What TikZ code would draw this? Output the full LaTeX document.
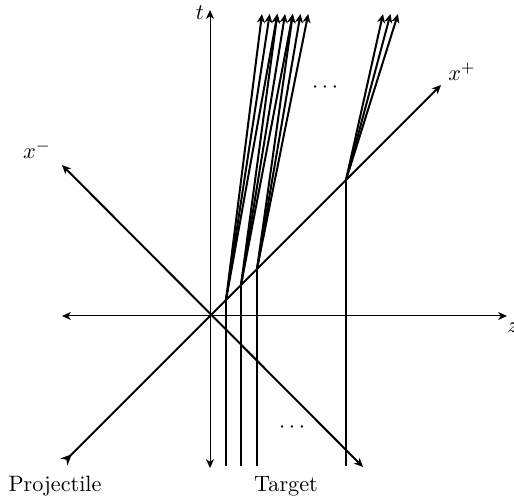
\documentclass[tikz,border=0pt]{standalone}
\usetikzlibrary{arrows.meta}
\begin{document}
\begin{tikzpicture}[x=0.45pt,y=-0.45pt,
  axis/.style={line width=0.45pt,{Stealth[length=4pt,width=3.6pt,inset=1.2pt]}-{Stealth[length=4pt,width=3.6pt,inset=1.2pt]}},
  light/.style={line width=0.9pt,{Stealth[length=4pt,width=3.6pt,inset=1.2pt]}-{Stealth[length=4pt,width=3.6pt,inset=1.2pt]}},
  worldline/.style={line width=0.9pt},
  jet/.style={line width=0.9pt,-{Stealth[length=4pt,width=3.6pt,inset=1.2pt]}},
  lbl/.style={inner sep=0pt}
]
\useasboundingbox (0,0) rectangle (514,496);
% axes
\coordinate (zl) at (62,316);
\coordinate (zr) at (507,316);
\coordinate (tb) at (210,468);
\coordinate (tt) at (210,10);
\draw[axis] (zl) -- (zr);
\draw[axis] (tb) -- (tt);
\node[lbl] (zlab) at (513,328) {$z$};
\node[lbl] (tlab) at (200,13) {$t$};
% light cone lines
\coordinate (pl) at (64,462);
\coordinate (pr) at (441,85);
\draw[line width=0.9pt,{Stealth[length=5pt,width=4.4pt,inset=1.5pt,reversed]}-{Stealth[length=4pt,width=3.6pt,inset=1.2pt]}] (pl) -- (pr);
\coordinate (ml) at (62,165);
\coordinate (mr) at (363,467);
\draw[light] (ml) -- (mr);
\node[lbl] (xp) at (462,72) {$x^+$};
\node[lbl] (xm) at (37,150) {$x^-$};
% target world lines
\foreach \i/\x in {1/226,2/241,3/257,4/346}{
  \coordinate (b\i) at (\x,466);
  \coordinate (p\i) at (\x,{316-(\x-210)});
  \draw[worldline] (b\i) -- (p\i);
}
% jets
\foreach \k in {0,...,6}{
  \coordinate (tip\k) at ({262+7.7*\k},14);
}
\foreach \k in {0,1,2}{
  \coordinate (r\k) at ({383+7.5*\k},14);
  \draw[jet] (p4) -- (r\k);
}
\foreach \k in {0,1,2}{ \draw[jet] (p1) -- (tip\k); }
\foreach \k in {2,3,4}{ \draw[jet] (p2) -- (tip\k); }
\foreach \k in {4,5,6}{ \draw[jet] (p3) -- (tip\k); }
% dots and labels
\node[lbl] (dtop) at (325,88) {$\cdots$};
\node[lbl] (dbot) at (292,428) {$\cdots$};
\node[lbl] (proj) at (55,486) {Projectile};
\node[lbl] (targ) at (286,486) {Target};
\end{tikzpicture}
\end{document}
